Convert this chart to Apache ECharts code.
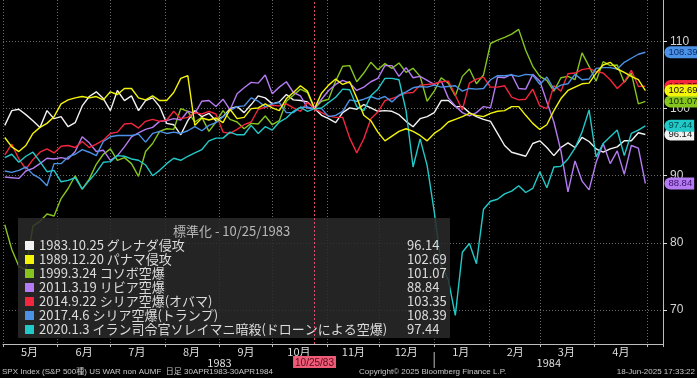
<!DOCTYPE html>
<html><head><meta charset="utf-8">
<script src="https://cdn.jsdelivr.net/npm/echarts@6/dist/echarts.min.js"></script>
<style>html,body{margin:0;padding:0;background:#000}#c{width:697px;height:378px}</style>
</head><body><div id="c"></div>
<script>
const dates = [
'1983-05-02','1983-05-06','1983-05-10','1983-05-14','1983-05-18','1983-05-22','1983-05-26','1983-05-30',
'1983-06-03','1983-06-07','1983-06-11','1983-06-15','1983-06-19','1983-06-23','1983-06-27',
'1983-07-01','1983-07-05','1983-07-09','1983-07-13','1983-07-17','1983-07-21','1983-07-25','1983-07-29',
'1983-08-02','1983-08-06','1983-08-10','1983-08-14','1983-08-18','1983-08-22','1983-08-26','1983-08-30',
'1983-09-03','1983-09-07','1983-09-11','1983-09-15','1983-09-19','1983-09-23','1983-09-27',
'1983-10-01','1983-10-05','1983-10-09','1983-10-13','1983-10-17','1983-10-21','1983-10-25','1983-10-29',
'1983-11-02','1983-11-06','1983-11-10','1983-11-14','1983-11-18','1983-11-22','1983-11-26','1983-11-30',
'1983-12-04','1983-12-08','1983-12-12','1983-12-16','1983-12-20','1983-12-24','1983-12-28',
'1984-01-01','1984-01-05','1984-01-09','1984-01-13','1984-01-17','1984-01-21','1984-01-25','1984-01-29',
'1984-02-02','1984-02-06','1984-02-10','1984-02-14','1984-02-18','1984-02-22','1984-02-26',
'1984-03-01','1984-03-05','1984-03-09','1984-03-13','1984-03-17','1984-03-21','1984-03-25','1984-03-29',
'1984-04-02','1984-04-06','1984-04-10','1984-04-14','1984-04-18','1984-04-22','1984-04-26','1984-04-30'];

const names = ['1983.10.25 グレナダ侵攻','1989.12.20 パナマ侵攻','1999.3.24 コソボ空爆','2011.3.19 リビア空爆','2014.9.22 シリア空爆(オバマ)','2017.4.6 シリア空爆(トランプ)','2020.1.3 イラン司令官ソレイマニ暗殺(ドローンによる空爆)'];

const grenada = [97.5,99.7,99.9,99.1,98.2,97.2,99.7,98.5,98.8,97.3,
97.9,100.4,101.8,102.5,101.5,99.7,102.7,101.2,101.9,99.7,
101.2,101.6,100.3,97.8,97.6,96.1,98.2,99.7,98.8,99.3,
98.2,98.8,100.0,100.3,99.4,100.6,101.9,101.6,100.7,101.0,
102.1,101.3,101.2,101.0,100,
99.0,98.5,97.9,99.4,100.1,99.9,100.6,100.1,99.6,99.7,
99.6,99.1,98.1,97.3,98.5,98.8,99.4,101.2,101.2,100.3,
100.3,99.4,98.8,98.4,98.1,96.3,94.5,93.5,93.2,92.9,
94.8,95.2,94.2,93.0,94.2,94.9,94.2,95.7,95.1,94.0,
93.5,94.0,94.3,95.2,95.2,96.4,96.14];

const panama = [95.7,94.3,93.6,94.5,96.3,97.2,97.8,98.8,100.7,101.3,
101.6,101.8,101.6,101.8,101.3,102.5,102.1,103.0,103.0,101.6,
101.3,101.9,101.2,101.2,102.4,104.5,104.9,97.5,98.6,98.3,
98.6,97.9,99.9,98.5,98.7,100.0,100.1,100.7,100.1,99.7,
101.5,102.4,103.4,102.6,100,
102.3,103.5,104.4,103.6,104.0,101.6,99.0,98.2,96.5,95.2,
95.9,96.6,97.0,96.6,96.0,95.2,96.3,97.0,98.0,98.4,
98.8,99.3,99.0,98.8,99.3,99.6,99.7,100.3,100.3,99.0,
97.8,96.9,97.6,99.7,101.5,102.7,103.2,103.7,103.8,105.3,
106.5,106.9,105.9,105.4,104.8,104.3,102.69];

const kosovo = [82.7,79.0,76.5,76.0,82.5,83.2,84.3,84.0,86.6,88.1,
90.0,88.0,89.5,91.7,93.2,94.0,92.3,92.7,91.8,89.9,
93.6,94.8,96.6,97.0,96.9,100.0,99.6,98.0,98.7,96.6,
98.0,99.7,98.4,98.0,97.0,97.8,97.7,98.9,97.6,98.2,
101.1,102.0,102.9,102.4,100,
101.1,101.4,104.1,106.3,106.4,104.0,105.3,106.9,105.8,106.7,
106.0,106.8,105.4,106.0,104.8,101.1,102.6,104.6,103.8,101.9,
104.8,105.9,103.7,105.0,109.7,110.2,110.6,111.1,111.8,108.7,
106.3,104.8,104.2,102.6,104.6,104.8,104.3,108.3,106.3,104.1,
107.0,106.4,106.5,103.9,105.3,100.7,101.07];

const libya = [89.8,89.7,89.6,90.7,91.1,91.8,92.6,92.5,92.7,92.5,
93.6,95.8,94.9,93.6,93.8,92.3,93.0,94.3,95.8,96.4,
96.9,97.2,98.1,98.2,98.5,98.3,99.6,99.3,101.1,101.2,
100.3,101.4,99.8,102.2,103.1,103.9,103.8,105.0,102.2,103.2,
104.0,102.4,101.9,100.1,100,
101.4,102.7,103.6,104.2,103.8,102.7,103.2,104.0,104.5,106.4,
106.4,104.8,106.1,104.6,104.8,104.2,103.6,104.1,101.6,100.4,
99.4,98.9,99.4,100.3,100.1,104.7,104.6,105.1,103.0,102.9,
105.1,104.1,101.0,98.0,93.7,87.6,92.2,89.2,87.9,92.0,
94.8,91.8,93.7,90.2,94.5,94.1,88.84];

const syriaObama = [93.1,94.7,92.5,91.0,92.4,93.5,94.0,93.4,94.4,94.5,
94.2,95.1,94.2,94.7,95.3,96.3,96.5,97.7,97.8,97.1,
98.1,98.4,98.1,98.3,99.6,98.5,98.7,99.4,99.2,99.6,
99.2,96.5,96.3,96.9,97.6,98.0,99.9,100.2,100.5,100.4,
100.7,100.1,99.6,100.9,100,
99.4,98.9,98.7,98.7,95.6,93.4,95.5,98.5,99.5,101.2,
101.5,101.9,102.3,102.4,103.5,103.6,103.7,104.0,104.1,102.0,
99.8,103.8,104.4,104.7,103.2,103.2,103.4,101.7,101.3,101.4,
102.9,100.4,100.0,103.4,102.6,105.2,105.3,105.8,106.0,105.5,
105.3,104.3,103.0,104.0,105.7,103.3,103.35];

const syriaTrump = [90.7,90.5,90.8,91.3,90.2,89.6,88.5,91.8,91.8,92.8,
93.2,93.9,93.5,93.0,95.1,95.8,96.0,96.0,96.0,96.2,
95.0,96.3,96.6,96.3,96.5,96.3,96.7,97.3,96.7,97.5,
97.9,98.8,99.7,100.3,100.4,101.6,101.1,100.3,100.7,100.9,
99.4,99.4,100.2,100.2,100,
100.0,98.8,99.0,99.6,101.3,101.1,101.4,101.8,101.4,101.8,
101.0,102.0,102.5,103.1,103.3,103.2,103.5,103.2,103.3,103.4,
102.6,103.0,102.9,103.0,104.3,104.9,104.9,105.0,104.8,105.1,
105.0,103.6,104.7,102.9,103.5,103.7,105.1,104.3,104.4,106.0,
106.1,106.1,105.9,106.9,107.5,108.1,108.39];

const soleimani = [92.7,93.2,92.0,92.9,93.5,92.1,90.6,90.8,89.1,89.3,
89.7,88.0,89.3,90.5,92.0,92.1,93.0,92.9,92.5,92.3,
91.6,90.0,90.8,91.8,92.6,92.3,92.9,93.4,93.9,95.2,
95.6,95.6,96.5,96.1,96.1,97.5,96.3,97.3,96.8,98.0,
98.6,99.6,100.2,99.6,100,
100.1,100.9,101.7,102.9,102.8,100.3,99.7,101.9,102.9,104.5,
104.5,104.3,99.7,91.3,95.5,91.5,84.7,76.7,74.5,69.2,
78.6,79.9,76.9,85.0,86.2,86.5,87.3,87.7,88.5,87.5,
88.1,90.6,88.2,91.3,91.4,92.5,94.1,96.5,99.8,92.8,
94.8,95.8,96.8,93.0,96.3,96.8,97.44];

const yTicks = [70, 80, 90, 100, 110];
const yearLabels = {'1983-9': '1983', '1984-3': '1984'};
const baseDate = '1983-10-25';
const baseLabel = '10/25/83';
const legendTitle = '標準化 - 10/25/1983';
const footerLeft = 'SPX Index (S&P 500種) US WAR non AUMF  日足 30APR1983-30APR1984';
const footerMid = 'Copyright\u00A9 2025 Bloomberg Finance L.P.';
const footerRight = '18-Jun-2025 17:33:22';

const seriesDefs = [
  {vals: grenada, color: '#f2f2f2', txt: '#111', z: 2},
  {vals: panama, color: '#f4f40a', txt: '#111', z: 3},
  {vals: kosovo, color: '#86c41e', txt: '#132800', z: 2},
  {vals: libya, color: '#b57bf2', txt: '#3a0f6a', z: 2},
  {vals: syriaObama, color: '#f2263e', txt: '#3a0008', z: 2},
  {vals: syriaTrump, color: '#4b92e6', txt: '#0b2d6b', z: 2},
  {vals: soleimani, color: '#22c9c9', txt: '#034848', z: 2}
];

const FONT = "'Noto Sans CJK JP','Noto Sans',sans-serif";
const lastVals = {};
names.forEach((n, k) => { const v = seriesDefs[k].vals; lastVals[n] = v[v.length - 1].toFixed(2); });

const series = seriesDefs.map((s, k) => {
  const o = {
    name: names[k], type: 'line', z: s.z,
    data: dates.map((d, i) => [d, s.vals[i]]),
    showSymbol: false, symbol: 'none',
    lineStyle: {color: s.color, width: 1.4},
    itemStyle: {color: s.color},
    emphasis: {disabled: true},
    endLabel: {
      show: true, formatter: p => p.value[1].toFixed(2), offset: [11, 0],
      backgroundColor: s.color, color: s.txt, fontSize: 9.5, lineHeight: 11,
      padding: [1, 2, 0, 4], borderRadius: [6, 0, 0, 6], fontFamily: 'Liberation Sans'
    }
  };
  if (k === 0) {
    o.markLine = {
      silent: true, symbol: 'none', animation: false,
      data: [{xAxis: baseDate}],
      lineStyle: {color: '#e0506e', type: [2, 2], width: 1},
      label: {show: true, position: 'start', formatter: baseLabel, backgroundColor: '#ee5c78',
        color: '#5c0a1c', fontSize: 10, padding: [2, 2, 0, 2], distance: 12, fontFamily: 'Liberation Sans'}
    };
  }
  return o;
});

const xMin = new Date(1983, 4, 1).getTime();
const xMax = new Date(1984, 4, 10).getTime();
const DAY = 86400000;

const chart = echarts.init(document.getElementById('c'), null, {renderer: 'canvas'});
chart.setOption({
  animation: false,
  backgroundColor: '#000',
  grid: {left: 0, right: 34, top: 0, bottom: 34},
  title: {text: legendTitle, left: 173, top: 225, z: 6, padding: 0,
    textStyle: {color: '#b8b8b8', fontSize: 13, fontWeight: 'normal', fontFamily: FONT}},
  legend: {
    orient: 'vertical', left: 25, top: 239, itemWidth: 9, itemHeight: 9, itemGap: 1,
    icon: 'rect', selectedMode: false, z: 5, padding: 0,
    data: names,
    formatter: n => `{n|${n}}{v|${lastVals[n]}}`,
    textStyle: {color: '#dcdcdc', fontSize: 13, fontFamily: FONT,
      rich: {n: {width: 368, fontSize: 13, lineHeight: 13, color: '#dcdcdc', fontFamily: FONT},
             v: {fontSize: 13, lineHeight: 13, color: '#dcdcdc', fontFamily: FONT}}}
  },
  xAxis: [{
    type: 'time', min: xMin, max: xMax, minInterval: 28 * DAY, maxInterval: 31 * DAY,
    axisLine: {show: true, lineStyle: {color: '#bdbdbd', width: 1}},
    axisTick: {show: true, length: 3, lineStyle: {color: '#bdbdbd'}},
    splitLine: {show: true, showMinLine: false, showMaxLine: false, lineStyle: {color: '#6a6a6a', type: [1, 2], width: 1}},
    axisLabel: {
      show: true, align: 'left', margin: 2, color: '#dedede', fontSize: 11, fontFamily: FONT,
      hideOverlap: false, showMinLabel: true, showMaxLabel: true,
      formatter: v => {
        const d = new Date(v);
        if (d.getDate() !== 1 || d.getTime() >= new Date(1984, 4, 1).getTime()) return '';
        const m = d.getMonth() + 1;
        return m < 10 ? `{a|${m}月}` : `{b|${m}月}`;
      },
      rich: {a: {padding: [0, 0, 0, 18], color: '#dedede', fontSize: 11, fontFamily: FONT},
             b: {padding: [0, 0, 0, 15], color: '#dedede', fontSize: 11, fontFamily: FONT}}
    }
  }, {
    type: 'time', min: xMin, max: xMax, minInterval: 28 * DAY, maxInterval: 31 * DAY,
    position: 'bottom', offset: 11,
    axisLine: {show: false}, axisTick: {show: false}, splitLine: {show: false},
    axisLabel: {
      show: true, margin: 2, color: '#dedede', fontSize: 11, fontFamily: FONT, hideOverlap: false,
      formatter: v => {
        const d = new Date(v);
        if (d.getDate() !== 1) return '';
        const t = yearLabels[d.getFullYear() + '-' + (d.getMonth() + 1)];
        if (!t) return '';
        return t === '1984' ? `{y|${t}}` : t;
      },
      rich: {y: {padding: [0, 0, 0, 18], color: '#dedede', fontSize: 11, fontFamily: FONT}}
    }
  }],
  yAxis: {
    type: 'value', position: 'right', min: 64.93, max: 116.18, splitNumber: 5,
    axisLine: {show: true, lineStyle: {color: '#bdbdbd', width: 1}},
    axisTick: {show: true, length: 4, lineStyle: {color: '#dddddd'}},
    splitLine: {show: true, showMinLine: false, showMaxLine: false, lineStyle: {color: '#6a6a6a', type: [1, 2], width: 1}},
    axisLabel: {show: true, margin: 7, color: '#d4d4d4', fontSize: 12, fontFamily: 'Liberation Sans',
      showMinLabel: false, showMaxLabel: false,
      formatter: v => (yTicks.indexOf(Math.round(v)) >= 0 && Math.abs(v - Math.round(v)) < 1e-6) ? String(Math.round(v)) : ''}
  },
  series: series
});

const janX = chart.convertToPixel({xAxisIndex: 0}, new Date(1984, 0, 1).getTime());
chart.setOption({
  graphic: [
    {type: 'rect', z: 3, shape: {x: 18, y: 218, width: 432, height: 120},
      style: {fill: 'rgba(42,42,42,0.86)'}},
    {type: 'line', z: 3, shape: {x1: janX, y1: 352, x2: janX, y2: 368},
      style: {stroke: '#bdbdbd', lineWidth: 1}},
    {type: 'text', z: 3, left: 2, top: 368, style: {text: footerLeft, fill: '#c8c8c8', font: "8px 'Liberation Sans', 'Noto Sans CJK JP'"}},
    {type: 'text', z: 3, left: 359, top: 368, style: {text: footerMid, fill: '#c8c8c8', font: "8px 'Liberation Sans'"}},
    {type: 'text', z: 3, right: 2, top: 368, style: {text: footerRight, fill: '#c8c8c8', font: "8px 'Liberation Sans'"}}
  ]
});
</script></body></html>
